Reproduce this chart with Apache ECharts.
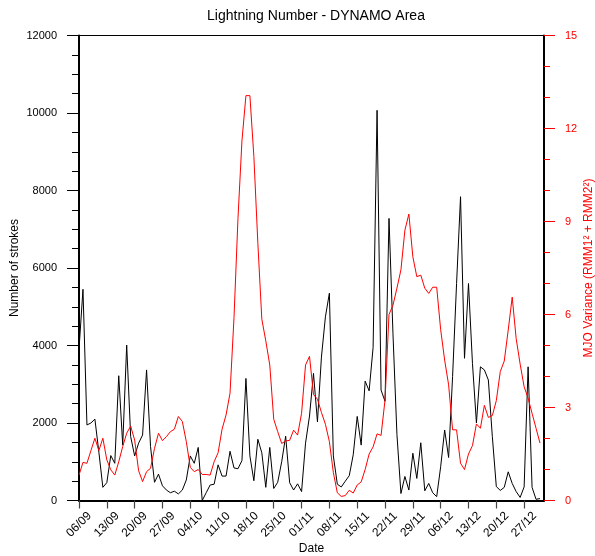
<!DOCTYPE html>
<html>
<head>
<meta charset="utf-8">
<script src="https://cdn.jsdelivr.net/npm/echarts@6/dist/echarts.min.js"></script>
<style>
html,body{margin:0;padding:0;background:#fff;}
#chart{width:595px;height:556px;}
</style>
</head>
<body>
<div id="chart"></div>
<script>
// Tick labels every 7 days starting at 06/09 (day 0)
const tickLabels = ['06/09','13/09','20/09','27/09','04/10','11/10','18/10','25/10','01/11','08/11','15/11','22/11','29/11','06/12','13/12','20/12','27/12'];

// Daily lightning strokes, 06/09 .. 31/12 (day 0..116)
const lightning = [
  3900,5450,1950,2000,2100,1250,340,460,1160,960,
  3220,1430,4010,1650,1150,1480,1690,3370,1390,470,
  680,380,270,200,240,170,270,530,1150,960,
  1370,0,200,400,420,920,630,630,1270,840,
  820,1030,3150,1150,510,1580,1230,340,1370,310,
  470,1000,1660,460,270,430,230,1480,2180,3280,
  2030,3700,4740,5350,1150,420,350,500,640,1180,
  2170,1430,3080,2830,3950,10070,2850,2560,7280,4300,
  1700,180,620,270,1220,570,1490,250,440,200,
  100,870,1820,1110,3200,5600,7840,3670,5600,3540,
  2000,3450,3370,3110,1650,360,260,340,740,440,
  230,80,350,3450,340,30,50
];

// Daily MJO variance (RMM1^2 + RMM2^2)
const mjoVariance = [
  0.82,1.23,1.20,1.61,2.01,1.61,2.01,1.31,0.99,0.82,
  1.25,1.74,2.17,2.40,1.95,0.96,0.61,0.93,1.04,1.68,
  2.17,1.93,2.06,2.22,2.30,2.71,2.55,1.90,1.07,0.93,
  1.00,0.84,0.84,0.82,1.25,1.54,2.30,2.76,3.46,5.9,
  9.1,11.6,13.06,13.06,11.1,8.3,5.85,5.15,4.37,2.62,
  2.22,1.84,1.92,1.94,2.27,2.11,2.81,4.37,4.65,3.42,
  3.27,2.84,2.46,1.9,0.9,0.25,0.13,0.16,0.33,0.24,
  0.5,0.6,1.0,1.5,1.73,2.15,2.1,3.24,6.0,6.3,
  6.85,7.44,8.72,9.24,7.86,7.22,7.27,6.85,6.68,6.88,
  6.88,5.51,4.53,3.73,2.28,2.28,1.20,1.0,1.5,1.77,
  2.47,2.33,3.07,2.68,2.74,3.22,4.16,4.5,5.5,6.56,
  5.22,4.4,3.67,3.3,2.81,2.33,1.85
];

const FONT = 'Liberation Sans, Arial, Helvetica, sans-serif';
const tickDays = tickLabels.map((_, i) => i * 7);

const chart = echarts.init(document.getElementById('chart'), null, {renderer: 'canvas'});
chart.setOption({
  animation: false,
  backgroundColor: '#fff',
  textStyle: {fontFamily: FONT},
  title: {
    text: 'Lightning Number - DYNAMO Area',
    left: 311,
    textAlign: 'center',
    top: 4,
    textStyle: {fontFamily: FONT, fontSize: 14, fontWeight: 'normal', color: '#000'}
  },
  grid: {left: 79, right: 51, top: 35.5, bottom: 55.5, show: true, borderColor: '#000', borderWidth: 1.2,
         containLabel: false, outerBoundsMode: 'none'},
  xAxis: {
    type: 'value', min: 0, max: 117, interval: 7,
    name: 'Date', nameLocation: 'middle', nameGap: 42, nameMoveOverlap: false,
    nameTextStyle: {fontFamily: FONT, fontSize: 12, color: '#000'},
    axisLine: {show: true, lineStyle: {color: '#000', width: 2}},
    axisTick: {show: true, length: 8, lineStyle: {color: '#444', width: 1.2}, customValues: tickDays},
    axisLabel: {
      customValues: tickDays,
      rotate: 45, align: 'center', verticalAlign: 'middle', margin: 24,
      fontFamily: FONT, fontSize: 12, color: '#000',
      formatter: v => tickLabels[Math.round(v / 7)] || ''
    },
    splitLine: {show: false}
  },
  yAxis: [{
    type: 'value', min: 0, max: 12000, interval: 2000, position: 'left',
    name: 'Number of strokes', nameLocation: 'middle', nameGap: 58, nameRotate: 90, nameMoveOverlap: false,
    nameTextStyle: {fontFamily: FONT, fontSize: 12, color: '#000'},
    axisLine: {show: true, lineStyle: {color: '#000', width: 2}},
    axisTick: {show: true, length: 12, lineStyle: {color: '#000', width: 1}},
    minorTick: {show: true, splitNumber: 4, length: 7, lineStyle: {color: '#000', width: 1}},
    axisLabel: {margin: 22, fontFamily: FONT, fontSize: 11, color: '#000', formatter: v => String(v)},
    splitLine: {show: false}, minorSplitLine: {show: false}
  }, {
    type: 'value', min: 0, max: 15, interval: 3, position: 'right',
    name: 'MJO Variance (RMM1\u00B2 + RMM2\u00B2)', nameLocation: 'middle', nameGap: 39, nameRotate: 90, nameMoveOverlap: false,
    nameTextStyle: {fontFamily: FONT, fontSize: 12, color: '#ff0000'},
    axisLine: {show: true, lineStyle: {color: '#000', width: 2}},
    axisTick: {show: true, length: 11, lineStyle: {color: '#ff0000', width: 1}},
    minorTick: {show: true, splitNumber: 3, length: 6, lineStyle: {color: '#ff0000', width: 1}},
    axisLabel: {margin: 21, fontFamily: FONT, fontSize: 11, color: '#ff0000', formatter: v => String(v)},
    splitLine: {show: false}, minorSplitLine: {show: false}
  }],
  series: [{
    name: 'Lightning', type: 'line', yAxisIndex: 0,
    data: lightning.map((v, i) => [i, v]),
    showSymbol: false, lineStyle: {color: '#000', width: 1}, itemStyle: {color: '#000'}
  }, {
    name: 'MJO Variance', type: 'line', yAxisIndex: 1,
    data: mjoVariance.map((v, i) => [i, v]),
    showSymbol: false, lineStyle: {color: '#ff0000', width: 1}, itemStyle: {color: '#ff0000'}
  }]
});
</script>
</body>
</html>
